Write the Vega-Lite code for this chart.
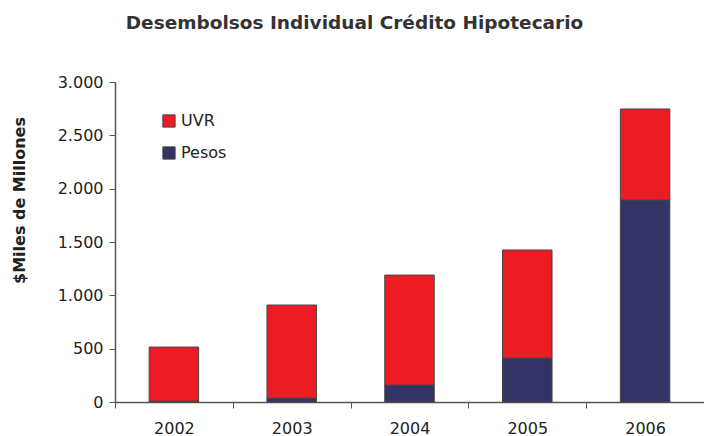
{
  "$schema": "https://vega.github.io/schema/vega-lite/v6.json",
  "autosize": "none",
  "width": 589,
  "height": 320,
  "padding": {"left": 115, "top": 82, "right": 0, "bottom": 34},
  "background": "white",
  "title": {
    "text": "Desembolsos Individual Crédito Hipotecario",
    "font": "DejaVu Sans",
    "fontSize": 18.5,
    "fontWeight": "bold",
    "color": "#333333",
    "anchor": "middle",
    "dx": -55,
    "offset": 42
  },
  "data": {
    "values": [
      {"year": "2002", "serie": "Pesos", "valor": 8},
      {"year": "2002", "serie": "UVR", "valor": 507},
      {"year": "2003", "serie": "Pesos", "valor": 37},
      {"year": "2003", "serie": "UVR", "valor": 872},
      {"year": "2004", "serie": "Pesos", "valor": 159},
      {"year": "2004", "serie": "UVR", "valor": 1031},
      {"year": "2005", "serie": "Pesos", "valor": 412},
      {"year": "2005", "serie": "UVR", "valor": 1013},
      {"year": "2006", "serie": "Pesos", "valor": 1894},
      {"year": "2006", "serie": "UVR", "valor": 853}
    ]
  },
  "mark": {"type": "bar", "stroke": "#444444", "strokeWidth": 1, "width": {"band": 0.42}},
  "encoding": {
    "x": {
      "field": "year",
      "type": "nominal",
      "scale": {"paddingInner": 0, "paddingOuter": 0},
      "axis": {
        "title": null,
        "labelAngle": 0,
        "tickBand": "extent",
        "labelFont": "DejaVu Sans",
        "labelFontSize": 16,
        "labelColor": "#222222",
        "labelPadding": 12,
        "tickSize": 6,
        "tickColor": "#555555",
        "domainColor": "#555555",
        "domainWidth": 1.5
      }
    },
    "y": {
      "field": "valor",
      "type": "quantitative",
      "aggregate": "sum",
      "stack": "zero",
      "scale": {"domain": [0, 3000], "nice": false},
      "axis": {
        "title": "$Miles de Millones",
        "titleFont": "DejaVu Sans",
        "titleFontSize": 16,
        "titleFontWeight": "bold",
        "titleColor": "#222222",
        "titlePadding": 30,
        "titleY": 118,
        "values": [0, 500, 1000, 1500, 2000, 2500, 3000],
        "labelExpr": "replace(format(datum.value, ',d'), ',', '.')",
        "labelFont": "DejaVu Sans",
        "labelFontSize": 16,
        "labelColor": "#222222",
        "labelPadding": 6,
        "tickSize": 6,
        "tickColor": "#555555",
        "domainColor": "#555555",
        "domainWidth": 1.5,
        "grid": false
      }
    },
    "color": {
      "field": "serie",
      "type": "nominal",
      "scale": {"domain": ["UVR", "Pesos"], "range": ["#ED1C24", "#333366"]},
      "legend": {
        "title": null,
        "orient": "none",
        "legendX": 46,
        "legendY": 31,
        "symbolType": "square",
        "symbolSize": 150,
        "symbolStrokeColor": "#444444",
        "symbolStrokeWidth": 1,
        "labelFont": "DejaVu Sans",
        "labelFontSize": 16,
        "labelColor": "#222222",
        "rowPadding": 14
      }
    },
    "order": {"field": "serie", "type": "nominal", "sort": "ascending"}
  },
  "config": {"view": {"stroke": null}}
}
